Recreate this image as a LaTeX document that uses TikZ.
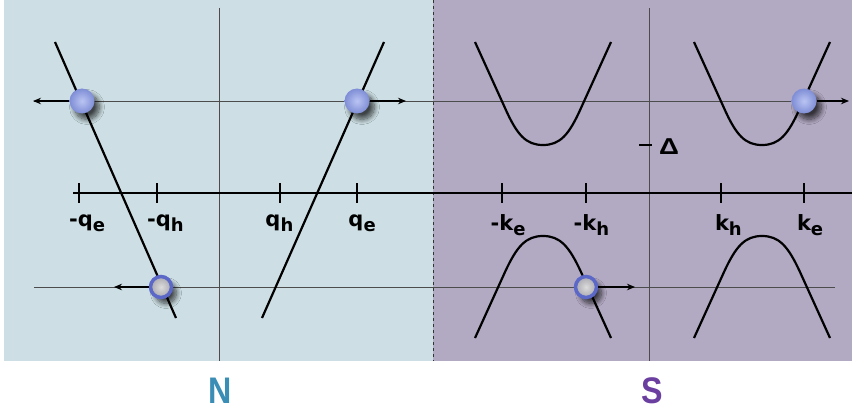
\documentclass[tikz,border=0pt]{standalone}
\usepackage{fontspec}
\setmainfont{DejaVu Sans}
\newfontfamily\nsfont{Liberation Sans}
\usetikzlibrary{arrows.meta,shadows.blur}
\definecolor{bgN}{HTML}{CDDFE4}
\definecolor{bgS}{HTML}{B2A9C2}
\definecolor{colN}{HTML}{3A8DB5}
\definecolor{colS}{HTML}{6B3FA0}
\definecolor{ballin}{HTML}{BAC4F2}
\definecolor{ballout}{HTML}{7F8ED6}
\definecolor{ringc}{HTML}{5B68C8}
\definecolor{holein}{HTML}{DCDCDC}
\definecolor{holeout}{HTML}{A8A8B0}
\tikzset{
  thin line/.style={draw=black!70, line width=0.8pt},
  axisline/.style={draw=black, line width=2.6pt},
  tickline/.style={draw=black, line width=2pt},
  band/.style={draw=black, line width=2.2pt, line join=round},
  arr/.style={-{Stealth[length=8pt,width=6.5pt]}, line width=1.8pt, draw=black},
  shad/.style={blur shadow={shadow xshift=5pt, shadow yshift=-6pt, shadow blur radius=5pt, shadow blur steps=10, shadow opacity=70}},
  elec/.style={circle, minimum size=25pt, inner sep=0pt, shad, inner color=ballin, outer color=ballout},
  hole/.style={circle, minimum size=21pt, inner sep=0pt, shad, draw=ringc, line width=3.5pt, inner color=holein, outer color=holeout},
  lab/.style={font=\fontsize{21}{21}\selectfont\bfseries, inner sep=0pt, anchor=base},
  side/.style={font=\nsfont\fontsize{37}{37}\selectfont\bfseries, inner sep=0pt}
}
\newcommand{\sbx}[1]{\rlap{\raisebox{-5pt}{\fontsize{18}{18}\selectfont #1}}}
\begin{document}
\begin{tikzpicture}[x=1pt,y=-1pt]
\useasboundingbox (0,0) rectangle (852,412);
\fill[white] (0,0) rectangle (852,412);
\fill[bgN] (4,0) rectangle (433,361);
\fill[bgS] (433,0) rectangle (852,361);
\draw[black!80, line width=0.9pt, dash pattern=on 3pt off 3pt] (433,0) -- (433,361);
% vertical axes
\draw[thin line] (219,8) -- (219,361);
\draw[thin line] (649,8) -- (649,361);
% horizontal energy lines
\draw[thin line] (34,101) -- (804,101);
\draw[thin line] (34,287) -- (835,287);
% momentum axis
\draw[axisline] (73,193) -- (852,193);
\foreach \x in {79,157,280,357,502,586,721,804}{
  \draw[tickline] (\x,183) -- (\x,203);
}
% Delta tick
\draw[tickline] (639,145) -- (652,145);
\node[font=\nsfont\fontsize{23}{23}\selectfont\bfseries, inner sep=0pt, anchor=base west] (delta) at (659,154) {\scalebox{1.2}[1]{Δ}};
% N bands
\draw[band] (55,42) -- (176,318);
\draw[band] (384,42) -- (262,318);
% S bands
\foreach \c in {543,762}{
  \draw[band] (\c-68,42) -- (\c-38,108) .. controls (\c-26,135) and (\c-17,145) .. (\c,145)
     .. controls (\c+17,145) and (\c+26,135) .. (\c+38,108) -- (\c+68,42);
  \draw[band] (\c-68,338) -- (\c-38,272) .. controls (\c-26,246) and (\c-17,236) .. (\c,236)
     .. controls (\c+17,236) and (\c+26,246) .. (\c+38,272) -- (\c+68,338);
}
% labels
\node[lab] (lqe1) at (81,226) {-q\sbx{e}};
\node[lab] (lqh1) at (159,226) {-q\sbx{h}};
\node[lab] (lqh2) at (273,226) {q\sbx{h}};
\node[lab] (lqe2) at (356,226) {q\sbx{e}};
\node[lab] (lke1) at (502,230) {-k\sbx{e}};
\node[lab] (lkh1) at (585,230) {-k\sbx{h}};
\node[lab] (lkh2) at (722,230) {k\sbx{h}};
\node[lab] (lke2) at (804,230) {k\sbx{e}};
% particles
\node[elec] (e1) at (82,101) {};
\node[elec] (e2) at (357,101) {};
\node[elec] (e3) at (804,101) {};
\node[hole] (h1) at (161,287) {};
\node[hole] (h2) at (586,287) {};
\coordinate (t1) at (33,101);
\coordinate (t2) at (406,101);
\coordinate (t3) at (849,101);
\coordinate (t4) at (114,287);
\coordinate (t5) at (635,287);
\draw[arr] (e1) -- (t1);
\draw[arr] (e2) -- (t2);
\draw[arr] (e3) -- (t3);
\draw[arr] (h1) -- (t4);
\draw[arr] (h2) -- (t5);
% region labels
\node[side, text=colN] (N) at (220,391) {\scalebox{0.87}[1]{N}};
\node[side, text=colS] (S) at (652,391) {\scalebox{0.87}[1]{S}};
\end{tikzpicture}
\end{document}
